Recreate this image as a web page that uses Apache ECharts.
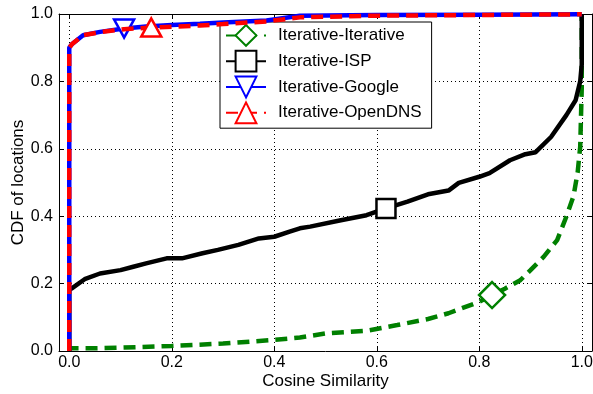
<!DOCTYPE html>
<html><head><meta charset="utf-8">
<script src="https://cdn.jsdelivr.net/npm/echarts@6/dist/echarts.min.js"></script>
<style>html,body{margin:0;padding:0;background:#fff}#c{width:593px;height:394px}</style>
</head><body><div id="c"></div>
<script>
const seriesNames = ['Iterative-Iterative', 'Iterative-ISP', 'Iterative-Google', 'Iterative-OpenDNS'];
const xTicks = [0, 0.2, 0.4, 0.6, 0.8, 1.0];
const yTicks = [0, 0.2, 0.4, 0.6, 0.8, 1.0];

const iterX = [0, 0, 0.05, 0.1, 0.2, 0.3, 0.4, 0.45, 0.5, 0.58, 0.64, 0.7, 0.74, 0.8, 0.825, 0.85, 0.88, 0.9, 0.926, 0.952, 0.971, 0.984, 0.992, 0.997, 1.0, 1.0];
const iterY = [0, 0.008, 0.008, 0.01, 0.015, 0.022, 0.033, 0.04, 0.052, 0.06, 0.077, 0.095, 0.112, 0.146, 0.166, 0.185, 0.21, 0.24, 0.28, 0.329, 0.403, 0.46, 0.53, 0.606, 0.78, 1.0];
const iterMark = 14;

const ispX = [0, 0, 0.005, 0.03, 0.06, 0.1, 0.125, 0.15, 0.19, 0.22, 0.26, 0.29, 0.33, 0.37, 0.4, 0.43, 0.45, 0.47, 0.53, 0.58, 0.618, 0.66, 0.7, 0.74, 0.76, 0.8, 0.82, 0.86, 0.89, 0.91, 0.94, 0.97, 0.988, 0.997, 1.0, 1.0];
const ispY = [0, 0.18, 0.186, 0.213, 0.23, 0.24, 0.25, 0.26, 0.275, 0.275, 0.29, 0.30, 0.315, 0.334, 0.339, 0.354, 0.364, 0.369, 0.388, 0.403, 0.423, 0.443, 0.465, 0.476, 0.499, 0.517, 0.528, 0.566, 0.584, 0.59, 0.635, 0.70, 0.744, 0.80, 0.85, 1.0];
const ispMark = 20;

const googleX = [0, 0, 0.005, 0.027, 0.06, 0.107, 0.15, 0.2, 0.255, 0.3, 0.385, 0.45, 0.6, 0.8, 1.0, 1.0];
const googleY = [0, 0.90, 0.91, 0.937, 0.947, 0.957, 0.963, 0.967, 0.971, 0.975, 0.981, 0.995, 0.997, 0.998, 0.999, 1.0];
const googleMark = 5;

const opendnsX = [0, 0, 0.005, 0.027, 0.06, 0.107, 0.16, 0.2, 0.255, 0.3, 0.385, 0.45, 0.6, 0.8, 1.0, 1.0];
const opendnsY = [0, 0.90, 0.91, 0.937, 0.946, 0.955, 0.96, 0.962, 0.966, 0.97, 0.978, 0.99, 0.995, 0.997, 0.999, 1.0];
const opendnsMark = 6;

const colors = ['#008000', '#000000', '#0000ff', '#ff0000'];
const symbols = ['diamond', 'rect', 'triangle', 'triangle'];
const rotates = [0, 0, 180, 0];
const sizes = [[26, 26], [19, 19], [20, 18], [20, 18]];
const dashes = [[12, 7], 'solid', 'solid', [12, 7]];
const xsAll = [iterX, ispX, googleX, opendnsX];
const ysAll = [iterY, ispY, googleY, opendnsY];
const marks = [iterMark, ispMark, googleMark, opendnsMark];

const font = 'Liberation Sans';
const series = seriesNames.map((name, k) => ({
  name, type: 'line', z: 2 + k,
  symbol: symbols[k], symbolSize: sizes[k], symbolRotate: rotates[k],
  showSymbol: true, animation: false,
  lineStyle: { color: colors[k], width: 4.5, type: dashes[k], cap: 'butt' },
  itemStyle: { color: '#fff', borderColor: colors[k], borderWidth: 2.5 },
  emphasis: { disabled: true },
  data: xsAll[k].map((x, i) => i === marks[k]
    ? { value: [x, ysAll[k][i]] }
    : { value: [x, ysAll[k][i]], symbol: 'none' })
}));

const chart = echarts.init(document.getElementById('c'), null, { renderer: 'canvas' });
const axisCommon = {
  axisLine: { show: true, onZero: false, lineStyle: { color: '#000', width: 1 } },
  axisTick: { show: true, inside: true, length: 4, lineStyle: { color: '#000' } },
};
chart.setOption({
  animation: false,
  backgroundColor: '#fff',
  grid: { left: 59, right: 1, top: 14, bottom: 43, containLabel: false, outerBoundsMode: 'none' },
  xAxis: [{
    type: 'value', min: -0.02, max: 1.02, position: 'bottom',
    name: 'Cosine Similarity', nameLocation: 'middle', nameGap: 22, nameMoveOverlap: false,
    nameTextStyle: { fontFamily: font, fontSize: 17, color: '#000' },
    ...axisCommon,
    axisTick: { ...axisCommon.axisTick, customValues: xTicks },
    axisLabel: { customValues: xTicks, fontFamily: font, fontSize: 16, color: '#000', margin: 4,
      formatter: v => v.toFixed(1) },
    splitLine: { show: true, lineStyle: { color: '#000', width: 1, type: [1, 3] } }
  }, {
    type: 'value', min: -0.02, max: 1.02, position: 'top',
    ...axisCommon,
    axisTick: { ...axisCommon.axisTick, customValues: xTicks },
    axisLabel: { show: false }, splitLine: { show: false }
  }],
  yAxis: [{
    type: 'value', min: 0, max: 1, interval: 0.2, position: 'left',
    name: 'CDF of locations', nameLocation: 'middle', nameGap: 32, nameMoveOverlap: false,
    nameTextStyle: { fontFamily: font, fontSize: 17, color: '#000' },
    ...axisCommon,
    axisLabel: { fontFamily: font, fontSize: 16, color: '#000', margin: 6, formatter: v => v.toFixed(1) },
    splitLine: { show: true, lineStyle: { color: '#000', width: 1, type: [1, 3] } }
  }, {
    type: 'value', min: 0, max: 1, interval: 0.2, position: 'right',
    ...axisCommon,
    axisLabel: { show: false }, splitLine: { show: false }
  }],
  legend: {
    orient: 'vertical', left: 220, top: 22,
    data: seriesNames,
    backgroundColor: '#fff', borderColor: '#000', borderWidth: 1, borderRadius: 0,
    padding: [2, 10, 4, 5],
    itemWidth: 40, itemHeight: 26, itemGap: 3,
    textStyle: { fontFamily: font, fontSize: 17, color: '#000', padding: [0, 0, 0, 7] },
    selectedMode: false
  },
  series
});
</script></body></html>
